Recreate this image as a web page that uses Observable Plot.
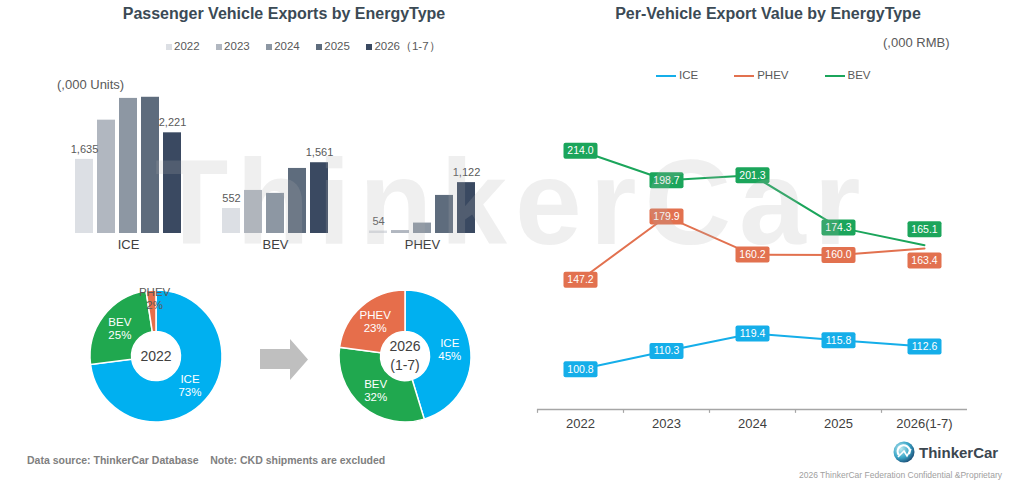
<!DOCTYPE html>
<html><head><meta charset="utf-8">
<script src="https://cdn.jsdelivr.net/npm/d3@7"></script>
<script src="https://cdn.jsdelivr.net/npm/@observablehq/plot@0.6"></script>
<style>
html,body{margin:0;padding:0;}
body{width:1024px;height:491px;background:#fff;position:relative;overflow:hidden;font-family:"Liberation Sans",Arial,sans-serif;}
.abs{position:absolute;white-space:nowrap;line-height:1;}
.title{font-weight:bold;font-size:16px;color:#3b4a55;text-align:center;width:600px;}
.leg{display:flex;align-items:center;font-size:11.5px;color:#595959;}
.sw{display:inline-block;width:6px;height:6px;margin-right:2px;}
.ln{display:inline-block;width:20px;height:2.5px;margin-right:3px;}
</style></head><body>
<script>
// ---------- data ----------
const types = ["ICE", "BEV", "PHEV"];
const years = ["2022", "2023", "2024", "2025", "2026（1-7）"];
const iceUnits = [1635, 2500, 2980, 3005, 2221];
const bevUnits = [552, 950, 885, 1435, 1561];
const phevUnits = [54, 65, 230, 840, 1122];
const barColors = ["#dcdfe4", "#b1b7c0", "#8d97a3", "#5e6c7d", "#3a4961"];

const lineYears = ["2022", "2023", "2024", "2025", "2026(1-7)"];
const lineSeries = ["ICE", "PHEV", "BEV"];
const iceValue = [100.8, 110.3, 119.4, 115.8, 112.6];
const phevValue = [147.2, 179.9, 160.2, 160.0, 163.4];
const bevValue = [214.0, 198.7, 201.3, 174.3, 165.1];
const lineColors = ["#15aee9", "#e2714f", "#1ba55b"];
const donutColors = {ICE: "#00b0f0", BEV: "#20a84f", PHEV: "#e66e4b"};

const FONT = '"Liberation Sans", Arial, sans-serif';
const unitsByType = {ICE: iceUnits, BEV: bevUnits, PHEV: phevUnits};
const barRows = types.flatMap(t => years.map((y, i) => ({type: t, year: y, value: unitsByType[t][i]})));
const valueBySeries = {ICE: iceValue, PHEV: phevValue, BEV: bevValue};
const lineRows = lineSeries.flatMap(s => lineYears.map((y, i) => ({series: s, year: y, value: valueBySeries[s][i]})));

function el(html, style) {
  const d = document.createElement("div");
  d.className = "abs";
  d.innerHTML = html;
  Object.assign(d.style, style);
  document.body.appendChild(d);
  return d;
}
function place(node, left, top) {
  node.style.position = "absolute";
  node.style.left = left + "px";
  node.style.top = top + "px";
  document.body.appendChild(node);
}

// ---------- titles & legends ----------
const t1 = el("Passenger Vehicle Exports by EnergyType", {left: "-16px", top: "6px"}); t1.classList.add("title");
const t2 = el("Per-Vehicle Export Value by EnergyType", {left: "468px", top: "6px"}); t2.classList.add("title");

const leg1 = el("", {left: "166px", top: "41px"}); leg1.classList.add("leg");
years.forEach((y, i) => {
  leg1.innerHTML += `<span style="display:flex;align-items:center;margin-right:${i < 4 ? 16.5 : 0}px"><span class="sw" style="background:${barColors[i]}"></span>${y}</span>`;
});
el("(,000 Units)", {left: "57px", top: "78px", fontSize: "13px", color: "#595959"});
el("(,000 RMB)", {left: "883px", top: "36px", fontSize: "13px", color: "#595959"});

const leg2 = el("", {left: "656px", top: "70px"}); leg2.classList.add("leg");
lineSeries.forEach((s, i) => {
  leg2.innerHTML += `<span style="display:flex;align-items:center;margin-right:${i < 2 ? 36 : 0}px"><span class="ln" style="background:${lineColors[i]}"></span>${s}</span>`;
});

// ---------- bar chart ----------
const barPlot = Plot.plot({
  width: 512, height: 200,
  marginLeft: 68, marginRight: 31, marginTop: 37, marginBottom: 27,
  fx: {domain: types, padding: 0.2, axis: null},
  x: {type: "band", domain: years, padding: 0.2, axis: null},
  y: {domain: [0, 3000], axis: null},
  color: {domain: years, range: barColors},
  style: {fontFamily: FONT, background: "transparent", overflow: "visible"},
  marks: [
    Plot.barY(barRows, {fx: "type", x: "year", y: "value", fill: "year"}),
    Plot.text(barRows.filter(d => d.year === years[0] || d.year === years[4]), {
      fx: "type", x: "year", y: "value", text: d => d3.format(",")(d.value),
      dy: -10, fill: "#595959", fontSize: 11
    }),
    Plot.text(types, {fx: d => d, text: d => d, frameAnchor: "bottom", dy: 15, fill: "#404040", fontSize: 13})
  ]
});
place(barPlot, 0, 60);

// ---------- donuts ----------
function shares(idx) {
  const tot = d3.sum(types, t => unitsByType[t][idx]);
  return types.map(t => ({type: t, value: unitsByType[t][idx], share: unitsByType[t][idx] / tot}));
}
function donutRender() {
  const g = d3.create("svg:g");
  const pie = d3.pie().sort(null).value(d => d.value);
  const rIn = 24.5, rOut = 66;
  const arc = d3.arc().innerRadius(rIn).outerRadius(rOut);
  const defs = [
    {cx: 156, data: shares(0), center: ["2022"]},
    {cx: 405, data: shares(4), center: ["2026", "(1-7)"]}
  ];
  defs.forEach(({cx, data, center}) => {
    const gg = g.append("g").attr("transform", `translate(${cx},76)`);
    const arcs = pie(data);
    gg.selectAll("path").data(arcs).join("path")
      .attr("d", arc).attr("fill", d => donutColors[d.data.type])
      .attr("stroke", "#fff").attr("stroke-width", 1.5);
    arcs.forEach(a => {
      const small = a.data.share < 0.05;
      const r = small ? 58 : (rIn + rOut) / 2;
      const m = (a.startAngle + a.endAngle) / 2;
      const x = r * Math.sin(m) + (small ? 3 : 0), y = -r * Math.cos(m);
      const t = gg.append("text").attr("text-anchor", "middle")
        .attr("fill", small ? "#595959" : "#fff").attr("font-size", 11.5);
      t.append("tspan").attr("x", x).attr("y", y - 6.5).attr("dy", "0.35em").text(a.data.type);
      t.append("tspan").attr("x", x).attr("y", y + 6.5).attr("dy", "0.35em").text(Math.round(a.data.share * 100) + "%");
    });
    const ct = gg.append("text").attr("text-anchor", "middle").attr("fill", "#404040").attr("font-size", 14);
    center.forEach((c, i) => {
      ct.append("tspan").attr("x", 0).attr("y", (i - (center.length - 1) / 2) * 19).attr("dy", "0.35em").text(c);
    });
  });
  g.append("path").attr("d", "M260,69H290V59L308,79.5L290,100V89H260Z").attr("fill", "#bfbfbf");
  return g.node();
}
const donutPlot = Plot.plot({
  width: 512, height: 160, margin: 0,
  style: {fontFamily: FONT, background: "transparent", overflow: "visible"},
  marks: [donutRender]
});
place(donutPlot, 0, 280);

// ---------- line chart ----------
const labelBox = {
  draw(ctx) {
    const w = 17, h = 8, r = 2;
    ctx.moveTo(-w + r, -h);
    ctx.lineTo(w - r, -h); ctx.arcTo(w, -h, w, -h + r, r);
    ctx.lineTo(w, h - r); ctx.arcTo(w, h, w - r, h, r);
    ctx.lineTo(-w + r, h); ctx.arcTo(-w, h, -w, h - r, r);
    ctx.lineTo(-w, -h + r); ctx.arcTo(-w, -h, -w + r, -h, r);
    ctx.closePath();
  }
};
const last = lineYears[lineYears.length - 1];
const isEnd = s => d => d.series === s && d.year === last;
const mainRows = lineRows.filter(d => !(isEnd("BEV")(d) || isEnd("PHEV")(d)));
const bevEnd = lineRows.filter(isEnd("BEV"));
const phevEnd = lineRows.filter(isEnd("PHEV"));
const boxMarks = (rows, dy) => [
  Plot.dot(rows, {x: "year", y: "value", fill: "series", symbol: labelBox, r: 8, stroke: null, dy}),
  Plot.text(rows, {x: "year", y: "value", text: d => d.value.toFixed(1), fill: "#fff", fontSize: 10.5, dy})
];
const linePlot = Plot.plot({
  width: 512, height: 349,
  marginLeft: 25, marginRight: 57, marginTop: 10, marginBottom: 30,
  x: {type: "band", domain: lineYears, padding: 0, tickSize: 0, tickPadding: 9, label: null},
  y: {domain: [80, 240], axis: null},
  color: {domain: lineSeries, range: lineColors},
  style: {fontFamily: FONT, fontSize: "13px", color: "#404040", background: "transparent", overflow: "visible"},
  marks: [
    Plot.ruleY([80], {stroke: "#a6a6a6", strokeWidth: 1.5}),
    Plot.ruleX(lineYears, {x: d => d, dx: -43, y1: 80, y2: 78, stroke: "#a6a6a6", strokeWidth: 1.2}),
    Plot.line(lineRows, {x: "year", y: "value", z: "series", stroke: "series", strokeWidth: 2}),
    ...boxMarks(mainRows, 0),
    ...boxMarks(bevEnd, -16),
    ...boxMarks(phevEnd, 12)
  ]
});
place(linePlot, 512, 90);

// ---------- footer ----------
el("Data source: ThinkerCar Database&nbsp;&nbsp;&nbsp; Note: CKD shipments are excluded",
   {left: "27px", top: "455px", fontSize: "10.5px", fontWeight: "bold", color: "#808080"});
el(`<svg width="22" height="22" viewBox="-11 -11 22 22" style="vertical-align:middle">
  <defs><radialGradient id="lg" cx="35%" cy="35%" r="70%"><stop offset="0" stop-color="#bfeaf0"/><stop offset="0.6" stop-color="#3aa6c8"/><stop offset="1" stop-color="#1c4f78"/></radialGradient></defs>
  <circle r="10.5" fill="url(#lg)"/>
  <path d="M-5,3 A6,6 0 1 1 5,2" fill="none" stroke="#fff" stroke-width="2.2"/>
  <path d="M-6,5 L0,-1 L3,4 L7,-3" fill="none" stroke="#fff" stroke-width="1.6"/>
  </svg>`, {left: "893px", top: "441px"});
el("ThinkerCar", {left: "919px", top: "444.5px", fontSize: "15px", fontWeight: "bold", color: "#3b4650"});
el("2026 ThinkerCar Federation Confidential &amp;Proprietary",
   {left: "799px", top: "471px", fontSize: "8.5px", color: "#a0a0a0"});

// ---------- watermark ----------
el("ThinkerCar", {left: "155px", top: "142px", fontSize: "120px", fontWeight: "bold", letterSpacing: "8px",
   color: "rgba(175,175,175,0.2)", pointerEvents: "none", zIndex: 10});
</script>
</body></html>
